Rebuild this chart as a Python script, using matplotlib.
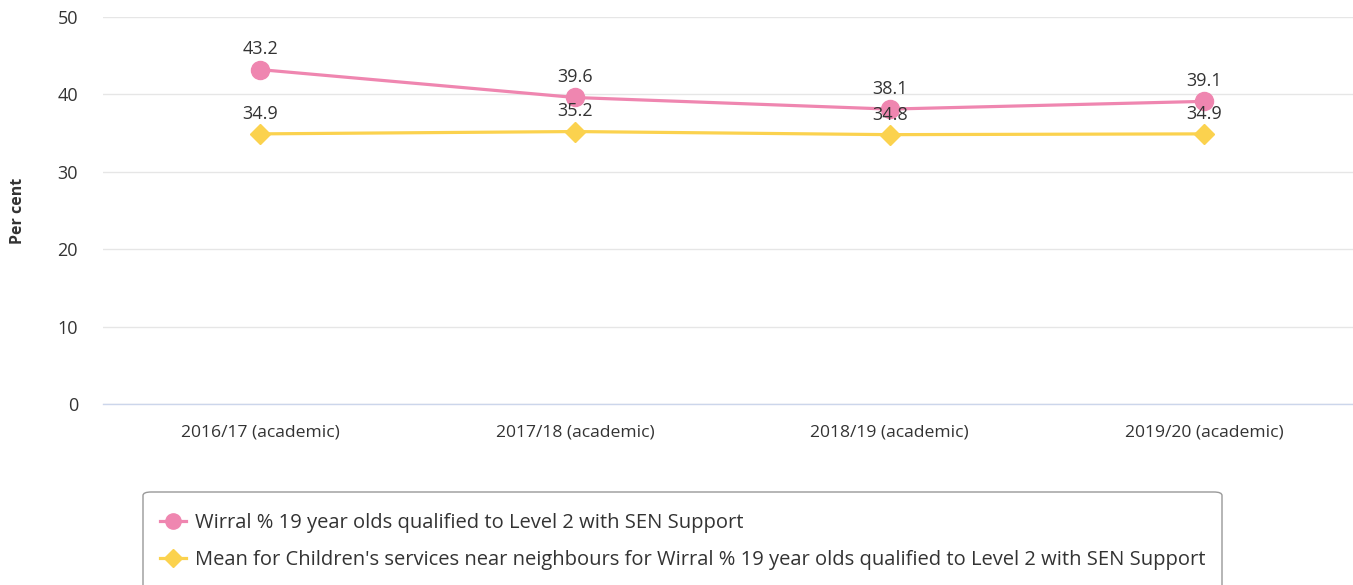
import matplotlib
matplotlib.use("Agg")
import matplotlib.pyplot as plt
from matplotlib.patches import FancyBboxPatch
from matplotlib.lines import Line2D

categories = ["2016/17 (academic)", "2017/18 (academic)", "2018/19 (academic)", "2019/20 (academic)"]
wirral = [43.2, 39.6, 38.1, 39.1]
neighbours = [34.9, 35.2, 34.8, 34.9]
series_names = ["Wirral % 19 year olds qualified to Level 2 with SEN Support",
                "Mean for Children's services near neighbours for Wirral % 19 year olds qualified to Level 2 with SEN Support"]
yticks = [0, 10, 20, 30, 40, 50]

plt.rcParams['font.family'] = ['Open Sans', 'DejaVu Sans']
PINK = "#ef86b0"
YELLOW = "#fbd24e"

fig = plt.figure(figsize=(13.53, 5.85), dpi=100)
ax = fig.add_axes([103/1353, 181/585, 1250/1353, 387/585])
x = list(range(len(categories)))

ax.plot(x, wirral, color=PINK, lw=2.3, marker='o', ms=13, zorder=3)
ax.plot(x, neighbours, color=YELLOW, lw=2.3, marker='D', ms=10.5, zorder=3)

for xi, v in zip(x, wirral):
    ax.annotate(f"{v:.1f}", (xi, v), xytext=(0, 14.5), textcoords='offset points',
                ha='center', va='center', fontsize=13, color='#333333', zorder=5)
for xi, v in zip(x, neighbours):
    ax.annotate(f"{v:.1f}", (xi, v), xytext=(0, 14.5), textcoords='offset points',
                ha='center', va='center', fontsize=13, color='#333333', zorder=5)

ax.set_xlim(-0.5, -0.5 + 1250/314.7)
ax.set_ylim(0, 50)
ax.set_yticks(yticks)
ax.set_yticklabels([str(t) for t in yticks], fontsize=13, color='#333333')
ax.set_xticks(x)
ax.set_xticklabels(categories, fontsize=12.6, color='#333333')
ax.tick_params(axis='both', length=0)
ax.tick_params(axis='y', pad=18)
ax.tick_params(axis='x', pad=14.5)
ax.grid(axis='y', color='#e6e6e6', lw=1)
ax.set_axisbelow(True)
for s in ['top', 'right', 'left']:
    ax.spines[s].set_visible(False)
ax.spines['bottom'].set_color('#ccd6eb')
ax.spines['bottom'].set_linewidth(1)

fig.text(18/1353, 1 - 211/585, "Per cent", rotation=90, ha='center', va='center',
         fontsize=11.5, fontweight='bold', color='#333333')

# Legend box
box = FancyBboxPatch((143/1353, -0.05), (1222-143)/1353, (585-492)/585 + 0.05,
                     boxstyle="round,pad=0,rounding_size=0.006", transform=fig.transFigure,
                     facecolor='white', edgecolor='#999999', lw=1, clip_on=False)
fig.patches.append(box)
for i, (name, col, mk, ms) in enumerate(zip(series_names, [PINK, YELLOW], ['o', 'D'], [11, 9])):
    yy = 1 - (521 + i*37)/585
    fig.add_artist(Line2D([160/1353, 186/1353], [yy, yy], color=col, lw=2.3, transform=fig.transFigure))
    fig.add_artist(Line2D([173/1353], [yy], color=col, marker=mk, ms=ms, lw=0, transform=fig.transFigure))
    fig.text(195/1353, yy - 2/585, name, ha='left', va='center', fontsize=14.5, color='#333333')

fig.savefig("out.png", dpi=100)
